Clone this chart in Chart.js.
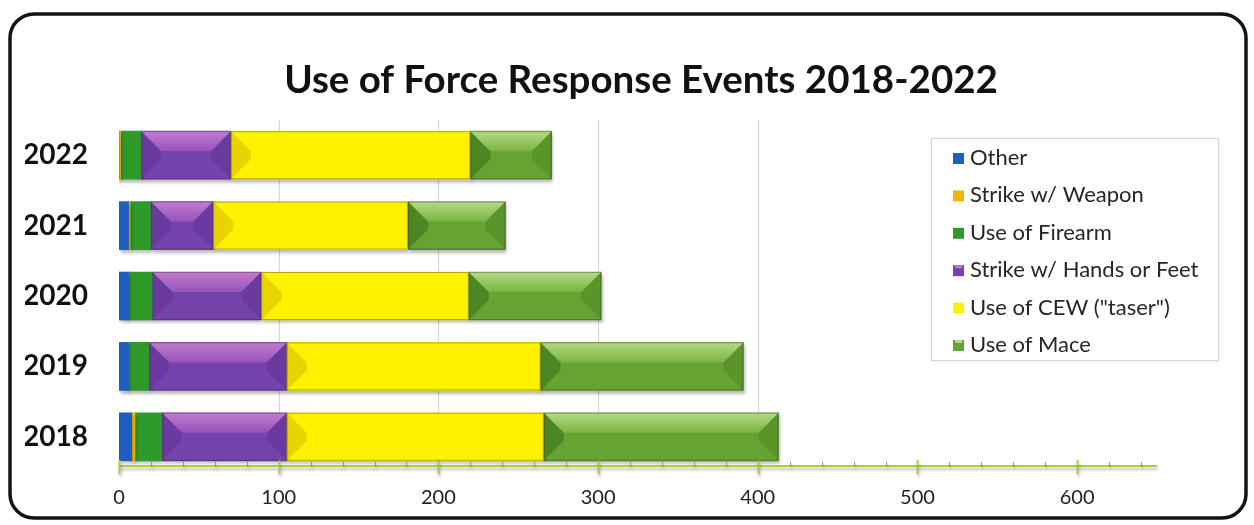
<!DOCTYPE html>
<html>
<head>
<meta charset="utf-8">
<title>Use of Force Response Events 2018-2022</title>
<script src="https://cdn.jsdelivr.net/npm/chart.js@4.4.1/dist/chart.umd.min.js"></script>
<style>
  html, body { margin: 0; padding: 0; background: #fff; }
  #wrap { width: 1254px; height: 525px; }
</style>
</head>
<body>
<div id="wrap"><canvas id="chart" width="1254" height="525"></canvas></div>
<script>
// categories, top to bottom
const years = ["2022", "2021", "2020", "2019", "2018"];

// response counts per year (same order as years)
const other        = [0, 6, 6, 6, 8];
const strikeWeapon = [1, 1, 0, 0, 2];
const firearm      = [13, 13, 15, 13, 17];
const handsFeet    = [56, 39, 68, 86, 78];
const cew          = [150, 122, 130, 159, 161];
const mace         = [51, 61, 83, 127, 147];

// x axis: labelled every 100, minor marks every 20
const xMax = 650;
const majorStep = 100;
const minorStep = 20;
const gridUpTo = 400;

const titleText = "Use of Force Response Events 2018-2022";
const FONT = "Lato, 'Open Sans', sans-serif";

// rounded frame around the whole figure, plus the title
const framePlugin = {
  id: "frame",
  beforeDraw(chart) {
    const ctx = chart.ctx;
    ctx.save();
    ctx.fillStyle = "#fff";
    ctx.fillRect(0, 0, chart.width, chart.height);
    const x = 10, y = 14, w = 1236, h = 504, r = 24;
    ctx.beginPath();
    ctx.moveTo(x + r, y);
    ctx.arcTo(x + w, y, x + w, y + h, r);
    ctx.arcTo(x + w, y + h, x, y + h, r);
    ctx.arcTo(x, y + h, x, y, r);
    ctx.arcTo(x, y, x + w, y, r);
    ctx.closePath();
    ctx.lineWidth = 3.5;
    ctx.strokeStyle = "#141414";
    ctx.stroke();

    ctx.fillStyle = "#111";
    ctx.font = "bold 38.5px " + FONT;
    ctx.textAlign = "center";
    ctx.textBaseline = "alphabetic";
    ctx.fillText(titleText, 641, 93);
    ctx.restore();
  }
};

// vertical gridlines plus the green value axis with its tick marks
const axisPlugin = {
  id: "valueAxis",
  beforeDatasetsDraw(chart) {
    const ctx = chart.ctx;
    const xs = chart.scales.x;
    const area = chart.chartArea;
    const axisY = area.bottom - 6;
    ctx.save();
    ctx.strokeStyle = "#d6d6d6";
    ctx.lineWidth = 1.2;
    xs.ticks.forEach(t => {
      if (t.value > 0 && t.value % majorStep === 0 && t.value <= gridUpTo) {
        const px = Math.round(xs.getPixelForValue(t.value)) + 0.5;
        ctx.beginPath();
        ctx.moveTo(px, area.top);
        ctx.lineTo(px, axisY);
        ctx.stroke();
      }
    });
    ctx.restore();
  },
  afterDatasetsDraw(chart) {
    const ctx = chart.ctx;
    const xs = chart.scales.x;
    const area = chart.chartArea;
    const axisY = area.bottom - 6;
    ctx.save();
    ctx.strokeStyle = "#a6cf3a";
    ctx.lineWidth = 2;
    ctx.beginPath();
    ctx.moveTo(xs.getPixelForValue(0), axisY);
    ctx.lineTo(xs.getPixelForValue(xMax), axisY);
    ctx.stroke();
    xs.ticks.forEach(t => {
      const px = Math.round(xs.getPixelForValue(t.value)) + 0.5;
      const major = t.value % majorStep === 0;
      ctx.strokeStyle = major ? "#a6cf3a" : "#8a9a6a";
      ctx.lineWidth = major ? 2 : 1;
      ctx.beginPath();
      ctx.moveTo(px, axisY - (major ? 6 : 4));
      ctx.lineTo(px, axisY + (major ? 8 : 0));
      ctx.stroke();
    });
    ctx.restore();
  }
};

// soft drop shadow under the bars
const shadowPlugin = {
  id: "barShadow",
  beforeDatasetsDraw(chart) {
    const ctx = chart.ctx;
    ctx.save();
    ctx.shadowColor = "rgba(0,0,0,0.28)";
    ctx.shadowBlur = 3;
    ctx.shadowOffsetX = 1;
    ctx.shadowOffsetY = 3;
  },
  afterDatasetsDraw(chart) {
    chart.ctx.restore();
  }
};

// bevelled look on each bar segment
const bevelPlugin = {
  id: "bevel",
  afterDatasetsDraw(chart) {
    const ctx = chart.ctx;
    chart.data.datasets.forEach((ds, i) => {
      const sh = ds.shade;
      if (!sh) return;
      chart.getDatasetMeta(i).data.forEach(bar => {
        const p = bar.getProps(["x", "y", "base", "height"], true);
        const x0 = Math.min(p.x, p.base), x1 = Math.max(p.x, p.base);
        const w = x1 - x0;
        if (w < 2) return;
        const y0 = p.y - p.height / 2, y1 = p.y + p.height / 2;
        const b = Math.min(sh.depth, w / 2, p.height / 2 - 2);
        const poly = (pts, fill) => {
          ctx.beginPath();
          ctx.moveTo(pts[0][0], pts[0][1]);
          for (let k = 1; k < pts.length; k++) ctx.lineTo(pts[k][0], pts[k][1]);
          ctx.closePath();
          ctx.fillStyle = fill;
          ctx.fill();
        };
        ctx.save();
        if (sh.side) {
          poly([[x0, y0], [x0 + b, y0 + b], [x0 + b, y1 - b], [x0, y1]], sh.side);
          poly([[x1, y0], [x1 - b, y0 + b], [x1 - b, y1 - b], [x1, y1]], sh.sideR || sh.side);
        }
        if (sh.top) {
          const g = ctx.createLinearGradient(0, y0, 0, y0 + b);
          g.addColorStop(0, sh.top);
          g.addColorStop(1, sh.topEnd || ds.backgroundColor);
          poly([[x0, y0], [x1, y0], [x1 - b, y0 + b], [x0 + b, y0 + b]], g);
        }
        ctx.strokeStyle = "rgba(40,40,40,0.35)";
        ctx.lineWidth = 1;
        ctx.strokeRect(x0 + 0.5, y0 + 0.5, w - 1, p.height - 1);
        ctx.restore();
      });
    });
  }
};

// legend box inside the plot, right side
const legendPlugin = {
  id: "boxLegend",
  afterDraw(chart) {
    const ctx = chart.ctx;
    const bx = 931, by = 138, bw = 287, bh = 222;
    ctx.save();
    ctx.shadowColor = "rgba(0,0,0,0.12)";
    ctx.shadowBlur = 3;
    ctx.shadowOffsetY = 1;
    ctx.fillStyle = "#fff";
    ctx.fillRect(bx, by, bw, bh);
    ctx.restore();
    ctx.save();
    ctx.strokeStyle = "#d4d4d4";
    ctx.lineWidth = 1;
    ctx.strokeRect(bx + 0.5, by + 0.5, bw, bh);
    ctx.font = "22px " + FONT;
    ctx.textBaseline = "middle";
    chart.data.datasets.forEach((ds, i) => {
      const cy = 158 + i * 37.4;
      ctx.fillStyle = ds.backgroundColor;
      ctx.fillRect(953, cy - 5, 11, 11);
      if (ds.shade && ds.shade.top) {
        ctx.fillStyle = ds.shade.top;
        ctx.fillRect(955, cy - 5, 7, 3);
      }
      ctx.fillStyle = "#262626";
      ctx.fillText(ds.label, 970, cy);
    });
    ctx.restore();
  }
};

const datasets = [
  { label: "Other", data: other, backgroundColor: "#1d5fc0" },
  { label: "Strike w/ Weapon", data: strikeWeapon, backgroundColor: "#f4b400" },
  { label: "Use of Firearm", data: firearm, backgroundColor: "#2f9a2c" },
  { label: "Strike w/ Hands or Feet", data: handsFeet, backgroundColor: "#7443ac",
    shade: { depth: 20, top: "#c37bd0", topEnd: "#9554b8", side: "#6a3aa0" } },
  { label: 'Use of CEW ("taser")', data: cew, backgroundColor: "#fff200",
    shade: { depth: 20, side: "#e8d500", sideR: "#fff200" } },
  { label: "Use of Mace", data: mace, backgroundColor: "#67a332",
    shade: { depth: 20, top: "#b2db86", topEnd: "#7cb443", side: "#4d8624", sideR: "#5a952b" } }
];
datasets.forEach(d => {
  d.barThickness = 48;
  d.borderWidth = 0;
});

new Chart(document.getElementById("chart"), {
  type: "bar",
  data: { labels: years, datasets: datasets },
  plugins: [framePlugin, axisPlugin, shadowPlugin, bevelPlugin, legendPlugin],
  options: {
    indexAxis: "y",
    responsive: false,
    animation: false,
    layout: { padding: { top: 120, left: 25, right: 97, bottom: 10 } },
    plugins: {
      legend: { display: false },
      tooltip: { enabled: false },
      title: { display: false }
    },
    scales: {
      x: {
        type: "linear",
        stacked: true,
        min: 0,
        max: xMax,
        afterBuildTicks(scale) {
          const t = [];
          for (let v = 0; v <= xMax; v += minorStep) t.push({ value: v });
          scale.ticks = t;
        },
        afterFit(scale) { scale.height = 43; },
        ticks: {
          autoSkip: false,
          maxRotation: 0,
          padding: 14,
          color: "#222",
          font: { family: FONT, size: 20 },
          callback: v => (v % majorStep === 0 ? v : "")
        },
        grid: { display: false, drawTicks: false },
        border: { display: false }
      },
      y: {
        stacked: true,
        afterFit(scale) { scale.width = 94; },
        ticks: {
          padding: 31,
          color: "#111",
          font: { family: FONT, size: 28, weight: "bold" }
        },
        grid: { display: false, drawTicks: false },
        border: { display: false }
      }
    }
  }
});
</script>
</body>
</html>
